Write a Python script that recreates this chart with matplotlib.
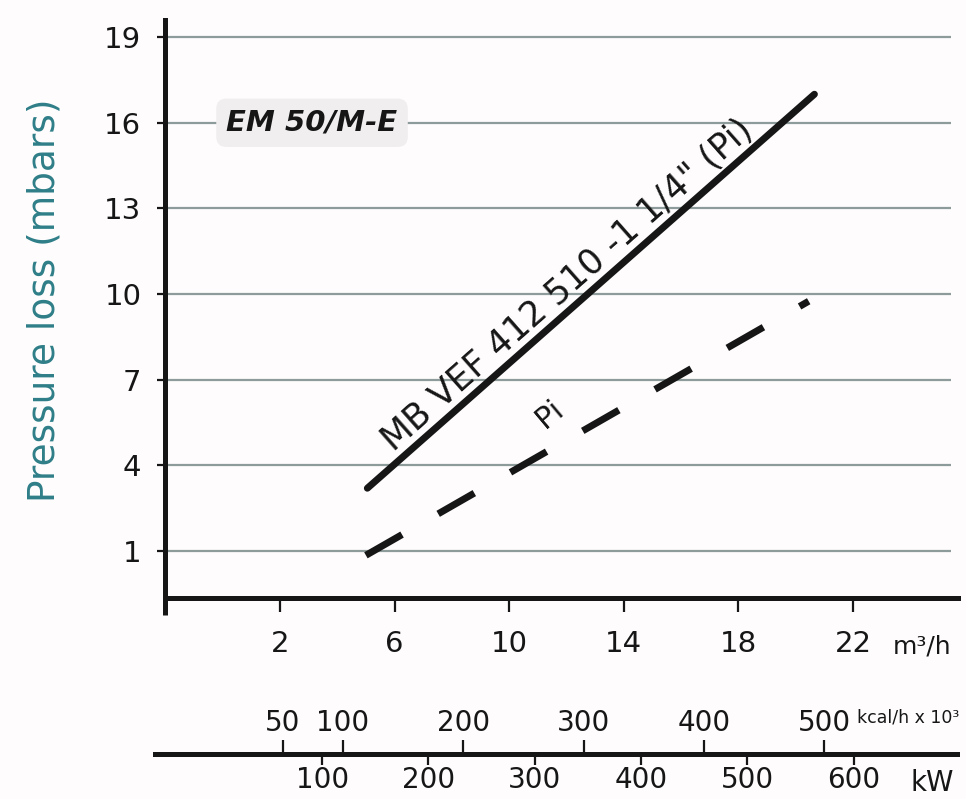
import numpy as np
import matplotlib
matplotlib.use("Agg")
import matplotlib.pyplot as plt

# --- Data ---
# gas flow in m3/h vs pressure loss in mbar
SOLID_FLOW = [5.05, 20.65]
SOLID_DP = [3.2, 17.0]
PI_FLOW = [5.0, 20.45]
PI_DP = [0.85, 9.75]

FLOW_TICKS = [2, 6, 10, 14, 18, 22]
DP_TICKS = [1, 4, 7, 10, 13, 16, 19]
KCAL_TICKS = [50, 100, 200, 300, 400, 500]
KW_TICKS = [100, 200, 300, 400, 500, 600]

# scale conversions onto the m3/h axis
FLOW_PER_KCAL = 0.042
KW_OFFSET = -0.24
KW_SLOPE = 0.0371

W, H = 966, 799
INK = "#161616"
GRID = "#8d9b9b"
TEAL = "#2f7f88"


def kcal_to_flow(k):
    return FLOW_PER_KCAL * np.asarray(k, dtype=float)


def kw_to_flow(kw):
    return KW_OFFSET + KW_SLOPE * np.asarray(kw, dtype=float)


def fx(px):
    return px / W


def fy(py):
    return 1 - py / H


fig = plt.figure(figsize=(W / 100, H / 100), dpi=100)
fig.patch.set_facecolor("#fefcfd")

# --- main chart ---
ax = fig.add_axes([fx(165), fy(598), fx(958) - fx(165), fy(20) - fy(598)])
ax.set_facecolor("none")
ax.set_xlim(-2.01, 25.66)
ax.set_ylim(-0.645, 19.6)

for s in ["top", "right"]:
    ax.spines[s].set_visible(False)
for s in ["left", "bottom"]:
    ax.spines[s].set_linewidth(3.6)
    ax.spines[s].set_color(INK)
# left axis crosses below the flow axis
ax.plot([-2.01, -2.01], [-1.24, -0.645], color=INK, lw=3.6, clip_on=False,
        solid_capstyle="butt")

ax.hlines(DP_TICKS, -2.01, 25.4, colors=GRID, lw=1.6, zorder=1)

ax.set_yticks(DP_TICKS)
ax.set_yticklabels([str(v) for v in DP_TICKS])
ax.tick_params(axis="y", direction="out", length=6, width=1.6, pad=11,
               labelsize=21, colors=INK)
ax.set_xticks(FLOW_TICKS)
ax.set_xticklabels([str(v) for v in FLOW_TICKS])
ax.tick_params(axis="x", direction="out", length=10, width=1.6, pad=13,
               labelsize=21, colors=INK)

ax.plot(SOLID_FLOW, SOLID_DP, color=INK, lw=5, solid_capstyle="round", zorder=3)
ax.plot(PI_FLOW, PI_DP, color=INK, lw=5, dashes=(6, 6),
        dash_capstyle="butt", zorder=3)

# label along the solid curve
ang = np.degrees(np.arctan2(SOLID_DP[1] - SOLID_DP[0], SOLID_FLOW[1] - SOLID_FLOW[0]))
xc = 12.5
yc = np.interp(xc, SOLID_FLOW, SOLID_DP)
off = 7
ax.annotate('MB VEF 412 510 -1 1/4" (Pi)', xy=(xc, yc),
            xytext=(-np.sin(np.radians(ang)) * off, np.cos(np.radians(ang)) * off),
            textcoords="offset points", rotation=ang, rotation_mode="anchor",
            ha="center", va="baseline", fontsize=25, color=INK)

ax.text(11.42, 5.8, "Pi", rotation=40, ha="center", va="center",
        fontsize=22, color=INK)

ax.text(3.12, 16, "EM 50/M-E", ha="center", va="center", fontsize=21,
        fontweight="bold", fontstyle="italic", color=INK, zorder=4,
        bbox=dict(boxstyle="round,pad=0.35", fc="#f0eeee", ec="none"))

fig.text(fx(45), fy(300), "Pressure loss (mbars)", rotation=90,
         ha="center", va="center", fontsize=27, color=TEAL)
fig.text(fx(922), fy(647), "m³/h", ha="center", va="center", fontsize=18,
         color=INK)

# --- conversion scale (kcal/h x 10^3 above, kW below) ---
ax2 = fig.add_axes([fx(155), fy(754), fx(957) - fx(155), 1e-4])
ax2.set_facecolor("none")
ax2.set_xlim((155 - 222.7) / 28.65, (957 - 222.7) / 28.65)
ax2.set_yticks([])
for s in ["top", "left", "right"]:
    ax2.spines[s].set_visible(False)
ax2.spines["bottom"].set_linewidth(3.6)
ax2.spines["bottom"].set_color(INK)
ax2.set_xticks(kw_to_flow(KW_TICKS))
ax2.set_xticklabels([str(v) for v in KW_TICKS])
ax2.tick_params(axis="x", direction="out", length=8, width=1.6, pad=1,
                labelsize=20, colors=INK)

ax3 = ax2.twiny()
ax3.set_xlim(ax2.get_xlim())
for s in ax3.spines.values():
    s.set_visible(False)
ax3.set_xticks(kcal_to_flow(KCAL_TICKS))
ax3.set_xticklabels([str(v) for v in KCAL_TICKS])
ax3.tick_params(axis="x", direction="out", length=10, width=1.6, pad=2,
                labelsize=20, colors=INK)

fig.text(fx(908), fy(718), "kcal/h x 10³", ha="center", va="center",
         fontsize=12.5, color=INK)
fig.text(fx(932), fy(783), "kW", ha="center", va="center", fontsize=20,
         color=INK)

fig.savefig("out.png", dpi=100, facecolor=fig.get_facecolor())
